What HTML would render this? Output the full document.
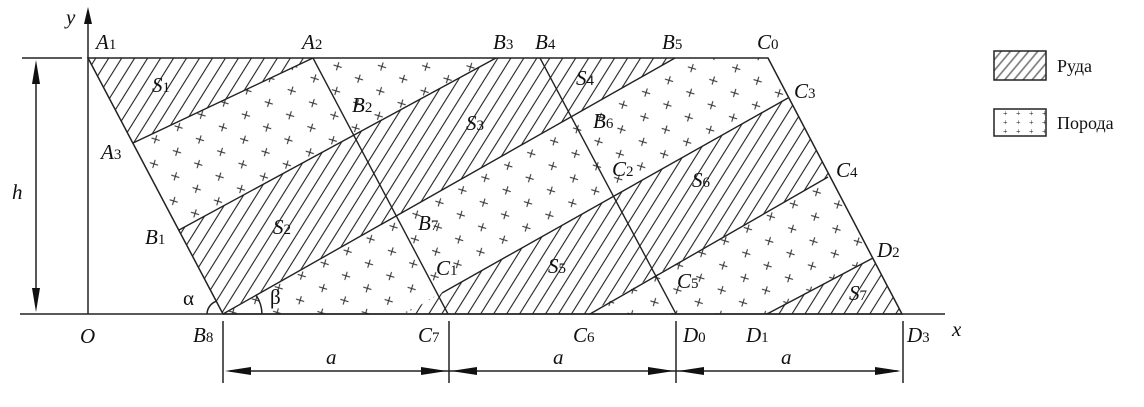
<!DOCTYPE html>
<html><head><meta charset="utf-8"><style>
html,body{margin:0;padding:0;background:#fff;width:1144px;height:407px;overflow:hidden;}
svg{display:block;}
text{font-family:"Liberation Serif",serif;fill:#111;}
.l{font-style:italic;font-size:21px;}
.s{font-style:normal;font-size:15px;}
</style></head><body>
<svg width="1144" height="407" viewBox="0 0 1144 407" xmlns="http://www.w3.org/2000/svg">
<defs>
<pattern id="hat" width="11" height="11" patternUnits="userSpaceOnUse" patternTransform="rotate(32)">
<rect width="11" height="11" fill="#fff"/>
<line x1="2" y1="0" x2="2" y2="11" stroke="#222" stroke-width="1.1"/>
</pattern>
<pattern id="crs" width="52" height="42" patternUnits="userSpaceOnUse" patternTransform="rotate(-28)">
<rect width="52" height="42" fill="#fff"/>
<g stroke="#333" stroke-width="1.1">
<path d="M4 4l6 6M10 4l-6 6"/><path d="M30 4l6 6M36 4l-6 6"/>
<path d="M17 25l6 6M23 25l-6 6"/><path d="M43 25l6 6M49 25l-6 6"/>
</g></pattern>
<pattern id="lhat" width="7" height="7" patternUnits="userSpaceOnUse" patternTransform="rotate(40)">
<rect width="7" height="7" fill="#fff"/><line x1="2" y1="0" x2="2" y2="7" stroke="#777" stroke-width="1.6"/></pattern>
<pattern id="ldot" width="13" height="9" patternUnits="userSpaceOnUse">
<rect width="13" height="9" fill="#fff"/><text x="2" y="8" style="font-size:8px">+</text></pattern>
<clipPath id="par"><polygon points="88,58 768,58 902,314 223,314"/></clipPath>
</defs>
<g clip-path="url(#par)">
<rect x="60" y="40" width="880" height="290" fill="url(#crs)"/>
<polygon points="60,-300 940,-300 940,-238 60,177.5" fill="url(#hat)"/>
<polygon points="60,294.6 940,-183 940,-91 60,405" fill="url(#hat)"/>
<polygon points="60,508 940,12.3 940,113 60,615" fill="url(#hat)"/>
<polygon points="60,680 940,223 940,500 60,500" fill="url(#hat)"/>
<g stroke="#222" stroke-width="1.4" fill="none">
<line x1="133" y1="143" x2="313" y2="58"/>
<line x1="179" y1="230" x2="496" y2="58"/>
<line x1="223" y1="314" x2="675" y2="58"/>
<line x1="442" y1="293" x2="788" y2="98"/>
<line x1="590" y1="314" x2="828" y2="177"/>
<line x1="767" y1="314" x2="873" y2="258"/>
<line x1="313" y1="58" x2="448" y2="314"/>
<line x1="540" y1="58" x2="676" y2="314"/>
</g>
</g>
<g stroke="#222" stroke-width="1.5" fill="none">
<polygon points="88,58 768,58 902,314 223,314"/>
<line x1="22" y1="58" x2="82" y2="58"/>
<line x1="88" y1="12" x2="88" y2="314"/>
<line x1="20" y1="314" x2="945" y2="314"/>
<line x1="36" y1="70" x2="36" y2="302"/>
<line x1="223" y1="321" x2="223" y2="383"/>
<line x1="449" y1="321" x2="449" y2="383"/>
<line x1="676" y1="321" x2="676" y2="383"/>
<line x1="903" y1="321" x2="903" y2="383"/>
<line x1="230" y1="371" x2="898" y2="371"/>
<path d="M207 314 A14 14 0 0 1 217 301"/>
<path d="M262 314 A36 36 0 0 0 256 295"/>
</g>
<g fill="#111">
<polygon points="88,7 84,24 92,24"/>
<polygon points="36,60 32,84 40,84"/>
<polygon points="36,312 32,288 40,288"/>
<polygon points="225,371 251,367 251,375"/>
<polygon points="447,371 421,367 421,375"/>
<polygon points="451,371 477,367 477,375"/>
<polygon points="674,371 648,367 648,375"/>
<polygon points="678,371 704,367 704,375"/>
<polygon points="901,371 875,367 875,375"/>
</g>
<text class="l" x="66" y="24">y</text>
<text class="l" x="12" y="199">h</text>
<text class="l" x="80" y="343">O</text>
<text class="l" x="952" y="336">x</text>
<text class="l" x="326" y="364">a</text>
<text class="l" x="553" y="364">a</text>
<text class="l" x="781" y="364">a</text>
<text x="183" y="305" style="font-size:21px">α</text>
<text x="270" y="304" style="font-size:21px">β</text>
<text class="l" x="96" y="49">A<tspan class="s">1</tspan></text>
<text class="l" x="302" y="49">A<tspan class="s">2</tspan></text>
<text class="l" x="101" y="159">A<tspan class="s">3</tspan></text>
<text class="l" x="493" y="49">B<tspan class="s">3</tspan></text>
<text class="l" x="535" y="49">B<tspan class="s">4</tspan></text>
<text class="l" x="662" y="49">B<tspan class="s">5</tspan></text>
<text class="l" x="757" y="49">C<tspan class="s">0</tspan></text>
<text class="l" x="152" y="92">S<tspan class="s">1</tspan></text>
<text class="l" x="352" y="112">B<tspan class="s">2</tspan></text>
<text class="l" x="466" y="130">S<tspan class="s">3</tspan></text>
<text class="l" x="576" y="85">S<tspan class="s">4</tspan></text>
<text class="l" x="593" y="128">B<tspan class="s">6</tspan></text>
<text class="l" x="794" y="98">C<tspan class="s">3</tspan></text>
<text class="l" x="612" y="176">C<tspan class="s">2</tspan></text>
<text class="l" x="692" y="187">S<tspan class="s">6</tspan></text>
<text class="l" x="836" y="177">C<tspan class="s">4</tspan></text>
<text class="l" x="145" y="244">B<tspan class="s">1</tspan></text>
<text class="l" x="273" y="234">S<tspan class="s">2</tspan></text>
<text class="l" x="418" y="230">B<tspan class="s">7</tspan></text>
<text class="l" x="436" y="275">C<tspan class="s">1</tspan></text>
<text class="l" x="548" y="273">S<tspan class="s">5</tspan></text>
<text class="l" x="677" y="288">C<tspan class="s">5</tspan></text>
<text class="l" x="877" y="257">D<tspan class="s">2</tspan></text>
<text class="l" x="849" y="300">S<tspan class="s">7</tspan></text>
<text class="l" x="193" y="342">B<tspan class="s">8</tspan></text>
<text class="l" x="418" y="342">C<tspan class="s">7</tspan></text>
<text class="l" x="573" y="342">C<tspan class="s">6</tspan></text>
<text class="l" x="683" y="342">D<tspan class="s">0</tspan></text>
<text class="l" x="746" y="342">D<tspan class="s">1</tspan></text>
<text class="l" x="907" y="342">D<tspan class="s">3</tspan></text>
<rect x="994" y="51" width="52" height="29" fill="url(#lhat)" stroke="#222" stroke-width="1.5"/>
<text x="1057" y="72" style="font-size:18px">Руда</text>
<rect x="994" y="109" width="52" height="27" fill="url(#ldot)" stroke="#222" stroke-width="1.5"/>
<text x="1057" y="129" style="font-size:18px">Порода</text>
</svg>
</body></html>
